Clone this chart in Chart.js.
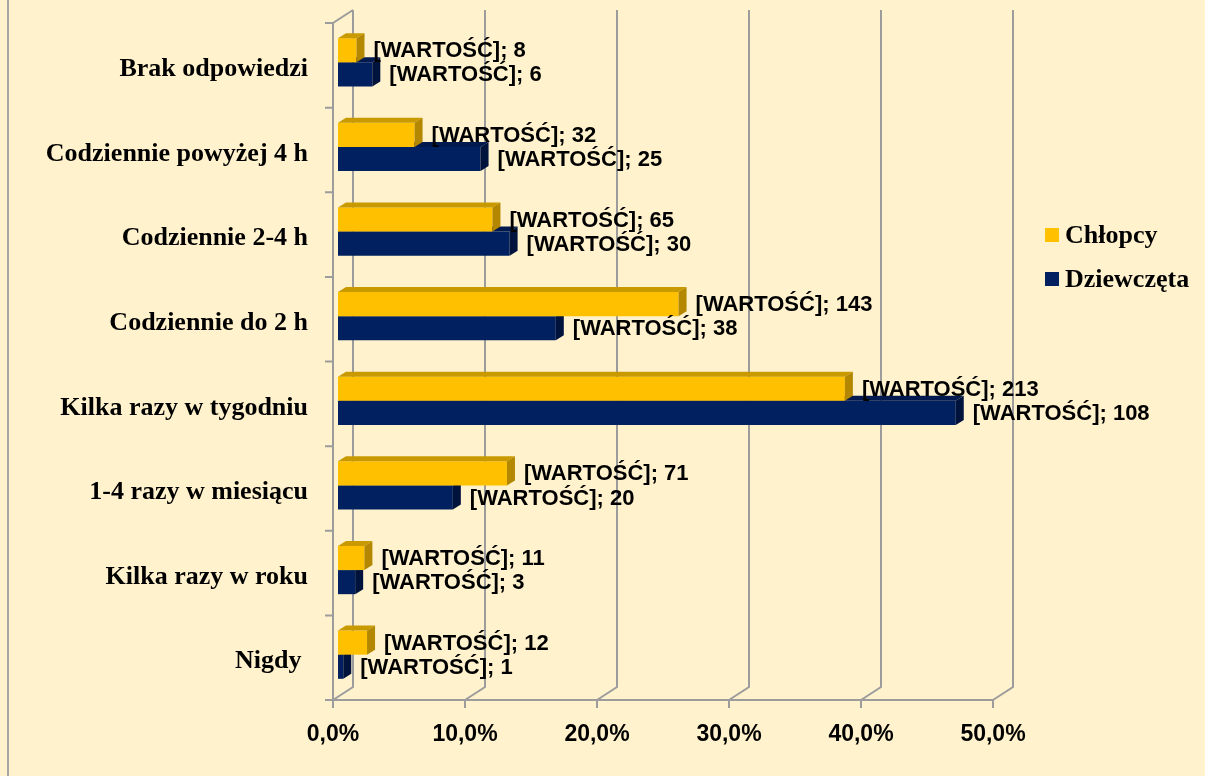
<!DOCTYPE html>
<html><head><meta charset="utf-8">
<script src="https://cdn.jsdelivr.net/npm/chart.js@4.4.1/dist/chart.umd.min.js"></script>
<style>html,body{margin:0;padding:0;background:#FFF2CC;overflow:hidden}#wrap{width:1205px;height:776px;position:relative}</style>
</head><body><div id="wrap"><canvas id="c" width="1205" height="776"></canvas></div>
<script>
const categories = ['Brak odpowiedzi','Codziennie powyżej 4 h','Codziennie 2-4 h','Codziennie do 2 h','Kilka razy w tygodniu','1-4 razy w miesiącu','Kilka razy w roku','Nigdy '];
const seriesNames = ['Chłopcy','Dziewczęta'];
const boysPct = [1.4, 5.8, 11.7, 25.8, 38.4, 12.8, 2.0, 2.2];
const girlsPct = [2.6, 10.8, 13.0, 16.5, 46.8, 8.7, 1.3, 0.4];
const boysCount = [8, 32, 65, 143, 213, 71, 11, 12];
const girlsCount = [6, 25, 30, 38, 108, 20, 3, 1];
const tickLabels = ['0,0%','10,0%','20,0%','30,0%','40,0%','50,0%'];
const labelPrefix = '[WARTOŚĆ]; ';

const FRONT = ['#FFC000', '#002060'];
const TOP = ['#C99A00', '#001A4F'];
const SIDE = ['#B38700', '#00133D'];
const counts = [boysCount, girlsCount];

const SERIF = '"Liberation Serif", "Times New Roman", serif';
const SANS = '"Liberation Sans", Arial, sans-serif';
const FX = -5, FY = 3, BX = 15, BY = -10; // wall front/back offsets
const DX = 8, DY = 5; // bar depth

const threeD = {
  id: 'threeD',
  beforeDraw(chart) {
    const ctx = chart.ctx;
    ctx.save();
    ctx.fillStyle = '#FFF2CC';
    ctx.fillRect(0, 0, chart.width, chart.height);
    ctx.fillStyle = '#A6A6A6';
    ctx.fillRect(7, 0, 2, chart.height);
    ctx.restore();
  },
  beforeDatasetsDraw(chart) {
    const ctx = chart.ctx, a = chart.chartArea, xs = chart.scales.x;
    ctx.save();
    ctx.strokeStyle = '#9C9C9C';
    ctx.lineWidth = 2;
    ctx.lineJoin = 'miter';
    ctx.beginPath();
    xs.ticks.forEach(t => {
      const px = xs.getPixelForValue(t.value);
      ctx.moveTo(px + BX, a.top + BY);
      ctx.lineTo(px + BX, a.bottom + BY);
      ctx.lineTo(px + FX, a.bottom + FY);
      ctx.moveTo(px + FX, a.bottom + FY);
      ctx.lineTo(px + FX, a.bottom + FY + 8);
    });
    ctx.moveTo(a.left + BX, a.top + BY);
    ctx.lineTo(a.left + FX, a.top + FY);
    ctx.lineTo(a.left + FX, a.bottom + FY);
    ctx.lineTo(xs.getPixelForValue(xs.max) + FX, a.bottom + FY);
    const n = categories.length;
    for (let i = 0; i <= n; i++) {
      const y = a.top + i * a.height / n + FY;
      ctx.moveTo(a.left + FX - 8, y);
      ctx.lineTo(a.left + FX, y);
    }
    ctx.stroke();
    ctx.restore();
  },
  afterDatasetDraw(chart, args) {
    const ctx = chart.ctx, di = args.index;
    ctx.save();
    args.meta.data.forEach(el => {
      const x0 = el.base, x1 = el.x, top = el.y - el.height / 2, bot = el.y + el.height / 2;
      ctx.fillStyle = TOP[di];
      ctx.beginPath();
      ctx.moveTo(x0, top); ctx.lineTo(x0 + DX, top - DY); ctx.lineTo(x1 + DX, top - DY); ctx.lineTo(x1, top);
      ctx.closePath(); ctx.fill();
      ctx.fillStyle = SIDE[di];
      ctx.beginPath();
      ctx.moveTo(x1, top); ctx.lineTo(x1 + DX, top - DY); ctx.lineTo(x1 + DX, bot - DY); ctx.lineTo(x1, bot);
      ctx.closePath(); ctx.fill();
    });
    ctx.restore();
  },
  afterDatasetsDraw(chart) {
    const ctx = chart.ctx;
    ctx.save();
    ctx.fillStyle = '#000';
    ctx.font = 'bold 22px ' + SANS;
    ctx.textAlign = 'left';
    ctx.textBaseline = 'middle';
    chart.data.datasets.forEach((ds, di) => {
      chart.getDatasetMeta(di).data.forEach((el, i) => {
        ctx.fillText(labelPrefix + counts[di][i], el.x + 17, el.y + 1);
      });
    });
    // legend
    const lx = 1045, ly = [235, 279];
    ctx.font = 'bold 26px ' + SERIF;
    seriesNames.forEach((name, i) => {
      ctx.fillStyle = FRONT[i];
      ctx.fillRect(lx, ly[i] - 7, 14, 14);
      ctx.fillStyle = '#000';
      ctx.fillText(name, lx + 20, ly[i] + 1);
    });
    ctx.restore();
  }
};

new Chart(document.getElementById('c'), {
  type: 'bar',
  data: {
    labels: categories,
    datasets: [
      { label: seriesNames[0], data: boysPct, backgroundColor: FRONT[0], borderWidth: 0 },
      { label: seriesNames[1], data: girlsPct, backgroundColor: FRONT[1], borderWidth: 0 }
    ]
  },
  options: {
    indexAxis: 'y',
    responsive: false,
    animation: false,
    devicePixelRatio: 1,
    categoryPercentage: 0.57,
    barPercentage: 1,
    layout: { padding: { top: 20, right: 207, left: 0, bottom: 0 } },
    plugins: { legend: { display: false }, tooltip: { enabled: false } },
    scales: {
      x: {
        min: 0, max: 50,
        grid: { display: false, drawTicks: false },
        border: { display: false },
        ticks: {
          stepSize: 10,
          padding: 24,
          labelOffset: -5,
          color: '#000',
          font: { family: SANS, size: 23, weight: 'bold' },
          callback: (v, i) => tickLabels[i]
        },
        afterFit(s) { s.height = 79; s.paddingLeft = 0; s.paddingRight = 0; }
      },
      y: {
        grid: { display: false, drawTicks: false },
        border: { display: false },
        ticks: {
          padding: 30,
          labelOffset: 7,
          color: '#000',
          font: { family: SERIF, size: 26, weight: 'bold' }
        },
        afterFit(s) { s.width = 338; s.paddingTop = 0; s.paddingBottom = 0; }
      }
    }
  },
  plugins: [threeD]
});
</script></body></html>
